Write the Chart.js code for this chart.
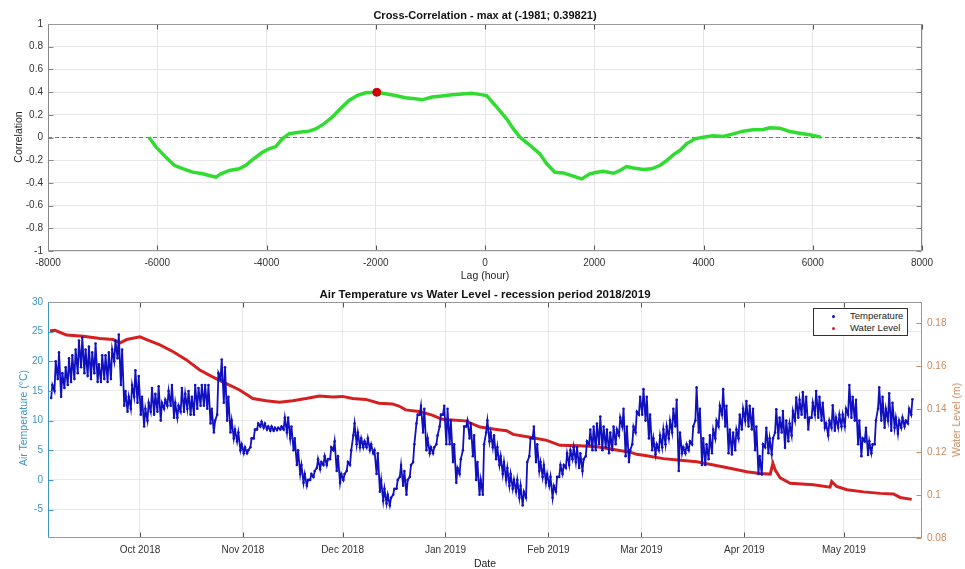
<!DOCTYPE html>
<html>
<head>
<meta charset="utf-8">
<script src="https://cdn.jsdelivr.net/npm/chart.js@4.4.1/dist/chart.umd.min.js"></script>
<style>
  html, body { margin: 0; padding: 0; background: #fff; }
  body { width: 965px; height: 569px; position: relative; overflow: hidden;
         font-family: "Liberation Sans", Arial, sans-serif; }
  canvas { position: absolute; left: 0; }
  .lbl { position: absolute; white-space: nowrap; font-size: 10.5px; color: #262626;
         transform: translate(-50%, -50%); }
  .rot { transform: translate(-50%, -50%) rotate(-90deg); }
  .ttl { font-weight: bold; color: #111; font-size: 11px; }
  #legend { position: absolute; left: 813px; top: 308px; width: 93px; height: 26px;
            border: 1px solid #333; background: #fff; font-size: 9.5px; color: #222; }
  #legend div { position: absolute; left: 0; height: 12px; line-height: 12px; }
  #legend span.dot { position: absolute; left: 18px; top: 5px; width: 3px; height: 3px; border-radius: 50%; }
  #legend span.txt { position: absolute; left: 36px; top: 0; }
</style>
</head>
<body>
<canvas id="corr" width="965" height="280" style="top:0"></canvas>
<canvas id="temp" width="965" height="289" style="top:280px"></canvas>

<div class="lbl ttl" style="left:485px;top:15px">Cross-Correlation - max at (-1981; 0.39821)</div>
<div class="lbl rot" style="left:18px;top:137px">Correlation</div>
<div class="lbl" style="left:485px;top:275px">Lag (hour)</div>

<div class="lbl ttl" style="left:485px;top:294px;font-size:11.5px">Air Temperature vs Water Level - recession period 2018/2019</div>
<div class="lbl rot" style="left:23px;top:418px;color:#3f95c4">Air Temperature (°C)</div>
<div class="lbl rot" style="left:956px;top:420px;color:#c88a5e">Water Level (m)</div>
<div class="lbl" style="left:485px;top:563px">Date</div>

<div id="legend">
  <div style="top:1px;width:93px"><span class="dot" style="background:#1010c0"></span><span class="txt">Temperature</span></div>
  <div style="top:13px;width:93px"><span class="dot" style="background:#d42020"></span><span class="txt">Water Level</span></div>
</div>

<script>
// ---- cross-correlation ----
const lagValues = [-6150,-6020,-5840,-5690,-5535,-5350,-5170,-5050,-4925,-4835,-4680,-4500,-4380,-4255,-4075,-3955,
  -3830,-3710,-3590,-3405,-3220,-3100,-2950,-2795,-2615,-2490,-2340,-2190,-1981,-1820,-1640,-1460,-1275,-1155,-970,
  -790,-605,-360,-240,-100,30,215,395,520,640,825,1005,1130,1280,1435,1615,1770,1920,2045,2165,2350,2470,2590,2715,
  2895,3050,3200,3325,3445,3565,3690,3840,3995,4175,4360,4545,4725,4910,5090,5215,5395,5580,5760,5945,6150];
const corrValues = [0,-0.085,-0.175,-0.245,-0.275,-0.305,-0.32,-0.335,-0.35,-0.32,-0.29,-0.275,-0.245,-0.195,-0.13,-0.1,
  -0.08,-0.012,0.032,0.047,0.056,0.076,0.12,0.18,0.268,0.326,0.37,0.394,0.398,0.385,0.37,0.35,0.341,0.332,0.356,
  0.365,0.376,0.385,0.39,0.38,0.37,0.268,0.165,0.076,0.003,-0.07,-0.144,-0.232,-0.306,-0.312,-0.341,-0.365,-0.32,
  -0.306,-0.297,-0.315,-0.291,-0.256,-0.268,-0.282,-0.276,-0.247,-0.203,-0.153,-0.115,-0.056,-0.012,0.003,0.015,
  0.009,0.032,0.056,0.068,0.07,0.085,0.082,0.053,0.038,0.024,0.003];
const maxLag = -1981;
const maxCorr = 0.39821;
const lagTicks = [-8000,-6000,-4000,-2000,0,2000,4000,6000,8000];
const corrTicks = [-1,-0.8,-0.6,-0.4,-0.2,0,0.2,0.4,0.6,0.8,1];

// ---- temperature (daily low / high, from 4 Sep 2018) ----
const tempStart = '2018-09-04';
const tempHigh = [
  16,20,21.5,18,19,20.5,21,22,23.5,24,22,22.5,21.5,23,19.5,21,21,21.5,22,23.5,24.5,22,15,14,16,18.5,17.5,   // Sep
  14,12,13,15.5,14.5,15.8,13,13.5,15,16,13,12.5,15.5,14.5,15,14,16,15.5,16,16,16,12,10,18,20.3,19,14,10,8.5,8,6, // Oct
  5.5,5,7,8.5,9.5,9.8,9.5,9,9,8.8,8.8,9,10.5,10.5,9,7,5,2.5,1,0,1,1.5,3.5,3,4,3.5,5.5,6.5,4,1,             // Nov
  1,3,5,9.5,8,7,6.5,7,6,5,4.5,0,-1.5,-2.5,-3,-1.5,0,2.5,1.5,0,2.5,6,11,12.5,12,7,5.5,5.5,7.5,11,12.5,      // Dec
  12,10,6,2,3.5,9,10,9.5,7.5,3,0,6,10,8,7.5,5.5,4,3,2,1,0,0,-1,-2,3,7,9,6,3,2.5,1,                         // Jan
  0.5,-1,0.5,2.5,2.5,4.5,5,5.5,5.5,4.5,3.5,6.5,8.5,9,9.5,10.7,9,8.5,8,9,8.5,10.5,12,9,5,9,11.5,14,          // Feb
  15.3,14,11,7,6,7.5,8.5,9,10,12,13.5,8,5.5,6,6.5,9,15.6,12,7,6,7.5,8.5,10,12.5,15.3,12.5,8.5,8,8.5,11,12,  // Mar
  13.3,12.5,12,9,4,6,8.8,7,7,11.9,10.5,11.6,10,9.5,11.6,13.9,13.5,14.8,14,10.5,13,15,14,13,9.5,10,12.6,10.5,11,11, // Apr
  12,16,14,13.5,10,7,8.8,6.5,6,10,15.6,14,12,14.6,13,10.5,10,10.5,10,12,13.6                              // May
];
const tempLow = [
  13.8,15,17,14,15.5,16,16.5,17,18,19,18,17.5,17,18,16.5,16.5,17,16.5,17,20,20.5,16,12.5,11.5,12,14,13,
  11,9,10,11.5,11,11.5,10,12,12.5,12.5,10.5,10.5,11.5,11.5,12,11,11,12,12.5,12.5,12,9.5,8,11,17,13,10,8,7,6.5,5,
  4.5,4.5,5.5,7,8.5,9,8.8,8.5,8.3,8.3,8.4,8.5,8.5,8,7,5,2.5,1,-0.5,-1,0,0.5,2,1.8,2.5,2.5,3.5,5,1.5,-0.5,
  0,1.5,2.5,7.5,6,5.5,5.5,5.5,5,4.5,1,-2,-3.5,-4,-4.3,-2.5,-1.5,0.5,-1,-2.5,0.5,3,9.5,11,8,5,4.5,4.5,6,9,11,
  6,6,3,-0.5,1,5,9,7,4,0,-2.5,-2.5,8,6.5,5.5,3.5,2.5,1,0,-1,-1.5,-2,-3,-4.3,-3,4,7,3,1.5,0.5,-0.5,
  -1,-3,-2,0.5,1,2,2.5,3.5,3,2,1.5,4,6,5,5,6,5,5.5,4.5,5,6,7.5,9,4,3,6,8,11,
  11,10,7,5,4.3,5,5.5,6,7,8,9,1.5,4.5,4.5,5,6,10,8,2.5,2.5,3.5,4.5,7,9,11,9,4.5,4.3,5,7,8.5,
  10,9,8.5,5,1,0.9,5.5,4.5,4.3,8,7,8,5.4,6.5,7.5,10,10.5,11,10.5,8.5,10.5,11,10.5,10,8.8,7.5,8.8,8.3,8.8,9,
  9,11,10.5,10,6,4,6.5,4.2,4.5,6,12,10,8.8,10,8.3,8.8,7.8,8.8,9,9.5,11
];

// ---- water level (day offset from 1 Oct 2018) ----
const wlDays = [-27.1,-25.6,-22.1,-17.1,-12,-8.1,-6,-4,0,2,6,10,14,18,22,26,30,34,38,42,46,50,54,58,61,64,68,72,76,78,80,
  84,88,91,94,98,102.4,107.4,110.4,112.4,117.5,122.5,126.5,132.5,137.6,142.6,147.6,149.6,152.6,157.6,162.7,167.7,
  172.7,177.7,182.7,186.7,189.8,190.6,191.3,192.8,195.8,202.8,207.8,208.3,209.8,212.9,217.9,222.9,226.9,228.9,232.4];
const wlValues = [0.1766,0.1768,0.1746,0.174,0.173,0.1725,0.171,0.1725,0.1738,0.1725,0.17,0.1668,0.163,0.1583,0.155,
  0.152,0.149,0.145,0.144,0.1433,0.144,0.145,0.1462,0.1457,0.146,0.145,0.1446,0.1428,0.1425,0.1415,0.1397,0.139,
  0.1373,0.1353,0.135,0.1346,0.1317,0.1306,0.13,0.1283,0.127,0.1255,0.1232,0.123,0.1225,0.1213,0.12,0.119,0.1183,
  0.117,0.1162,0.1155,0.114,0.1125,0.1109,0.1101,0.1098,0.1148,0.1117,0.108,0.1055,0.1048,0.1037,0.1063,0.104,
  0.1025,0.1015,0.1008,0.1005,0.0989,0.098];

const monthStarts = ['2018-10-01','2018-11-01','2018-12-01','2019-01-01','2019-02-01','2019-03-01','2019-04-01','2019-05-01'];
const monthLabels = ['Oct 2018','Nov 2018','Dec 2018','Jan 2019','Feb 2019','Mar 2019','Apr 2019','May 2019'];
const tempTicks = [-5,0,5,10,15,20,25,30];
const wlTicks = [0.08,0.1,0.12,0.14,0.16,0.18];

const leftColor = '#3f95c4';
const rightColor = '#c88a5e';

const dayOf = s => (Date.parse(s + 'T00:00:00Z') - Date.parse('2018-10-01T00:00:00Z')) / 864e5;
const monthDays = monthStarts.map(dayOf);

Chart.defaults.font.family = '"Liberation Sans", Arial, sans-serif';
Chart.defaults.font.size = 10;
Chart.defaults.color = '#262626';

// box round the plot and inward tick marks, MATLAB style
const boxPlugin = {
  id: 'box',
  afterDatasetsDraw(chart, args, opts) {
    const { ctx, chartArea: a, scales } = chart;
    ctx.save();
    ctx.lineWidth = 1;
    const line = (x1, y1, x2, y2, c) => {
      ctx.strokeStyle = c; ctx.beginPath(); ctx.moveTo(x1, y1); ctx.lineTo(x2, y2); ctx.stroke();
    };
    const L = Math.round(a.left) + 0.5, R = Math.round(a.right) - 0.5;
    const T = Math.round(a.top) + 0.5, B = Math.round(a.bottom) - 0.5;
    scales.x.ticks.forEach(t => {
      const x = Math.round(scales.x.getPixelForValue(t.value)) + 0.5;
      line(x, B, x, B - 5, '#555');
      line(x, T, x, T + 5, '#555');
    });
    scales.y.ticks.forEach(t => {
      const y = Math.round(scales.y.getPixelForValue(t.value)) + 0.5;
      line(L, y, L + 5, y, opts.leftColor);
      if (!scales.y2) line(R, y, R - 5, y, opts.rightColor);
    });
    if (scales.y2) scales.y2.ticks.forEach(t => {
      const y = Math.round(scales.y2.getPixelForValue(t.value)) + 0.5;
      line(R, y, R - 5, y, opts.rightColor);
    });
    line(L, T, R, T, '#999');
    line(L, B, R, B, '#999');
    line(L, T, L, B, opts.leftColor);
    line(R, T, R, B, opts.rightColor);
    ctx.restore();
  }
};

// ---- top chart ----
new Chart(document.getElementById('corr'), {
  type: 'line',
  data: {
    datasets: [
      { data: lagValues.map((v, i) => ({ x: v, y: corrValues[i] })), borderColor: '#2fdc2f', borderWidth: 3.5,
        pointRadius: 0, tension: 0, order: 2 },
      { data: [{ x: lagTicks[0], y: 0 }, { x: lagTicks[lagTicks.length - 1], y: 0 }], borderColor: '#777',
        borderWidth: 1.2, borderDash: [4, 3], pointRadius: 0, order: 3 },
      { data: [{ x: maxLag, y: maxCorr }], borderColor: '#d00000', backgroundColor: '#d00000', showLine: false,
        pointRadius: 4, order: 1 }
    ]
  },
  options: {
    responsive: false, animation: false, devicePixelRatio: 1,
    layout: { padding: { top: 24, right: 43, left: 0, bottom: 0 } },
    plugins: { legend: { display: false }, tooltip: { enabled: false },
               box: { leftColor: '#888', rightColor: '#888' } },
    scales: {
      x: { type: 'linear', min: -8000, max: 8000,
           afterBuildTicks: s => { s.ticks = lagTicks.map(v => ({ value: v })); },
           ticks: { callback: v => String(v), padding: 6, maxRotation: 0, autoSkip: false, color: '#333' },
           grid: { color: '#e6e6e6', drawTicks: false }, border: { display: false },
           afterFit: s => { s.height = 29; } },
      y: { min: -1, max: 1,
           afterBuildTicks: s => { s.ticks = corrTicks.map(v => ({ value: v })); },
           ticks: { callback: v => String(Number(v.toFixed(1))), padding: 5, autoSkip: false, color: '#333' },
           grid: { color: '#e6e6e6', drawTicks: false }, border: { display: false },
           afterFit: s => { s.width = 48; } }
    }
  },
  plugins: [boxPlugin]
});

// ---- bottom chart ----
const t0 = dayOf(tempStart);
const tempPoints = [];
tempHigh.forEach((h, i) => {
  tempPoints.push({ x: t0 + i + 0.25, y: tempLow[i] });
  tempPoints.push({ x: t0 + i + 0.62, y: h });
});

new Chart(document.getElementById('temp'), {
  type: 'line',
  data: {
    datasets: [
      { label: 'Temperature', data: tempPoints, yAxisID: 'y', borderColor: '#1010c0', borderWidth: 1.8,
        pointRadius: 1.3, pointBorderWidth: 0, pointBackgroundColor: '#1010c0', tension: 0, order: 1 },
      { label: 'Water Level', data: wlDays.map((d, i) => ({ x: d, y: wlValues[i] })), yAxisID: 'y2',
        borderColor: '#d42020', borderWidth: 3, pointRadius: 0, tension: 0, order: 2 }
    ]
  },
  options: {
    responsive: false, animation: false, devicePixelRatio: 1,
    layout: { padding: { top: 22, right: 0, left: 0, bottom: 0 } },
    plugins: { legend: { display: false }, tooltip: { enabled: false },
               box: { leftColor: leftColor, rightColor: rightColor } },
    scales: {
      x: { type: 'linear', min: -27.7, max: 235.5,
           afterBuildTicks: s => { s.ticks = monthDays.map(v => ({ value: v })); },
           ticks: { callback: v => monthLabels[monthDays.indexOf(v)], padding: 6, maxRotation: 0, autoSkip: false, color: '#333' },
           grid: { color: '#e8e8e8', drawTicks: false }, border: { display: false },
           afterFit: s => { s.height = 31; } },
      y: { position: 'left', min: -9.8, max: 30,
           afterBuildTicks: s => { s.ticks = tempTicks.map(v => ({ value: v })); },
           ticks: { callback: v => String(v), padding: 5, autoSkip: false, color: leftColor },
           grid: { color: '#e8e8e8', drawTicks: false }, border: { display: false },
           afterFit: s => { s.width = 48; } },
      y2: { position: 'right', min: 0.08, max: 0.19,
            afterBuildTicks: s => { s.ticks = wlTicks.map(v => ({ value: v })); },
            ticks: { callback: v => String(Number(v.toFixed(2))), padding: 5, autoSkip: false, color: rightColor },
            grid: { display: false, drawTicks: false }, border: { display: false },
            afterFit: s => { s.width = 43; } }
    }
  },
  plugins: [boxPlugin]
});
</script>
</body>
</html>
